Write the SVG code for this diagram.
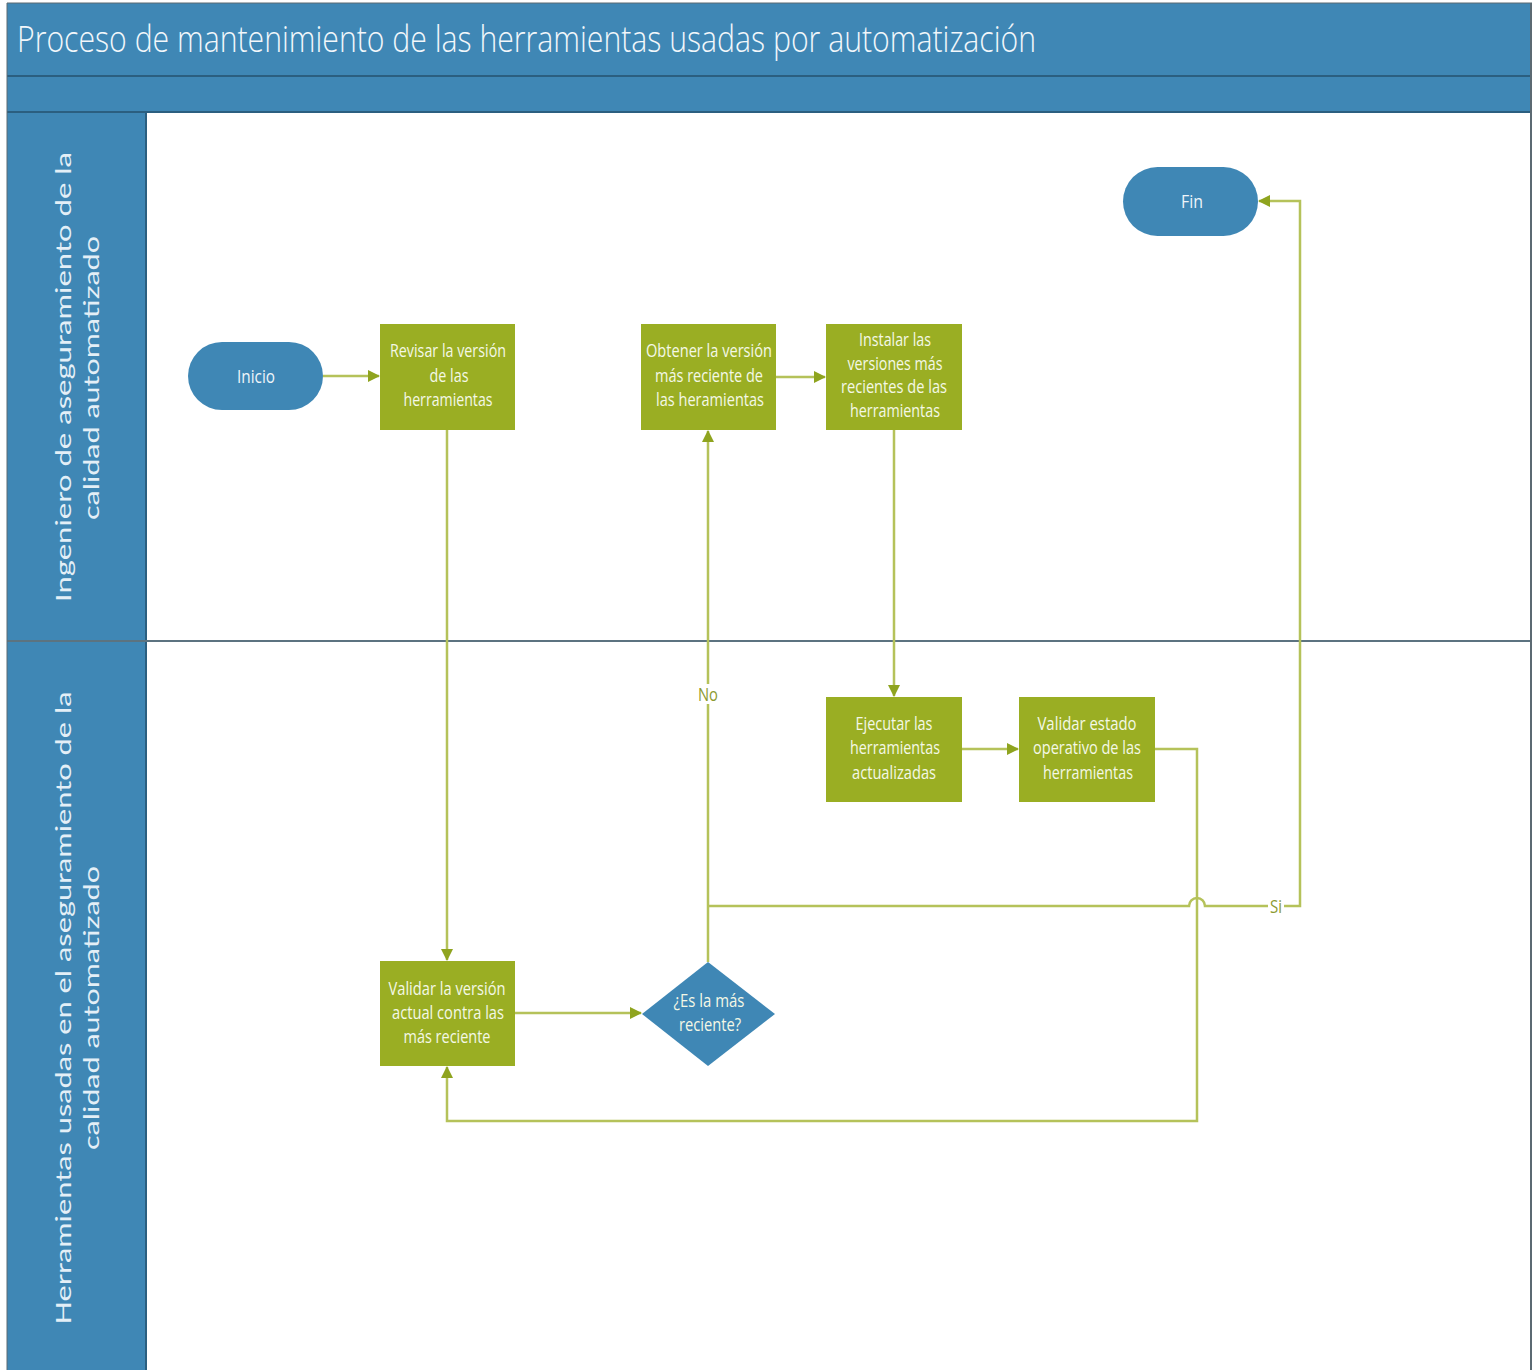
<svg xmlns="http://www.w3.org/2000/svg" width="1536" height="1372" viewBox="0 0 1536 1372">
  <style>
    .band { fill: #3f87b5; }
    .rule { stroke: #2b5f80; stroke-width: 2; fill: none; }
    .title { font-family: "Open Sans", "Liberation Sans", sans-serif; font-size: 36px; fill: #f2f7fb; font-weight: 300; }
    .lane { font-family: "Lato", "Open Sans", sans-serif; font-size: 22px; fill: #e3eff7; }
    .task { fill: #9aae23; }
    .term { fill: #3f87b5; }
    .lbl { font-family: "Open Sans", "Liberation Sans", sans-serif; font-size: 18px; fill: #f4f8e6; text-anchor: middle; }
    .tlbl { font-family: "Open Sans", "Liberation Sans", sans-serif; font-size: 19px; fill: #eef5fa; text-anchor: middle; }
    .conn { stroke: #b5c25a; stroke-width: 2.5; fill: none; }
    .clbl { font-family: "Open Sans", "Liberation Sans", sans-serif; font-size: 18px; fill: #8c9a30; text-anchor: middle; }
  </style>
  <defs>
    <marker id="arrow" viewBox="0 0 12 12" refX="11" refY="6" markerWidth="12" markerHeight="12" markerUnits="userSpaceOnUse" orient="auto">
      <path d="M0,0 L12,6 L0,12 z" fill="#8fa41f"/>
    </marker>
  </defs>

  <!-- frame and swimlanes -->
  <rect x="0" y="0" width="1536" height="1372" fill="#ffffff"/>
  <rect x="7" y="3" width="1525" height="109" class="band"/>
  <rect x="7" y="112" width="139" height="1258" class="band"/>
  <line x1="7" y1="76" x2="1532" y2="76" class="rule"/>
  <line x1="7" y1="112" x2="1532" y2="112" class="rule"/>
  <line x1="146" y1="112" x2="146" y2="1370" stroke="#2b5f80" stroke-width="2"/>
  <line x1="7" y1="641" x2="1532" y2="641" stroke="#5c7380" stroke-width="2"/>
  <line x1="1531" y1="3" x2="1531" y2="1370" stroke="#5c6a73" stroke-width="2"/>
  <line x1="7" y1="3" x2="7" y2="1370" stroke="#5c6a73" stroke-width="1"/>
  <line x1="7" y1="3" x2="1532" y2="3" stroke="#5c6a73" stroke-width="1"/>

  <text x="17" y="52" class="title" textLength="1019" lengthAdjust="spacingAndGlyphs">Proceso de mantenimiento de las herramientas usadas por automatización</text>

  <g id="lane-ingeniero">
    <text class="lane" text-anchor="middle" transform="translate(71,377) rotate(-90)" textLength="450" lengthAdjust="spacingAndGlyphs">Ingeniero de aseguramiento de la</text>
    <text class="lane" text-anchor="middle" transform="translate(99,378) rotate(-90)" textLength="284" lengthAdjust="spacingAndGlyphs">calidad automatizado</text>
  </g>
  <g id="lane-herramientas">
    <text class="lane" text-anchor="middle" transform="translate(71,1008) rotate(-90)" textLength="633" lengthAdjust="spacingAndGlyphs">Herramientas usadas en el aseguramiento de la</text>
    <text class="lane" text-anchor="middle" transform="translate(99,1008) rotate(-90)" textLength="284" lengthAdjust="spacingAndGlyphs">calidad automatizado</text>
  </g>

  <!-- connectors -->
  <g id="connectors">
    <path class="conn" d="M323,376 H379" marker-end="url(#arrow)"/>
    <path class="conn" d="M447,430 V960" marker-end="url(#arrow)"/>
    <path class="conn" d="M515,1013 H641" marker-end="url(#arrow)"/>
    <path class="conn" d="M708,962 V431" marker-end="url(#arrow)"/>
    <path class="conn" d="M776,377 H825" marker-end="url(#arrow)"/>
    <path class="conn" d="M894,430 V696" marker-end="url(#arrow)"/>
    <path class="conn" d="M962,749 H1018" marker-end="url(#arrow)"/>
    <path class="conn" d="M1155,749 H1197 V1121 H447 V1067" marker-end="url(#arrow)"/>
    <path class="conn" d="M708,906 H1189 A8,8 0 0 1 1205,906 H1300 V201 H1259" marker-end="url(#arrow)"/>
    <rect x="698" y="684" width="20" height="20" fill="#ffffff"/>
    <text x="708" y="701" class="clbl" textLength="20" lengthAdjust="spacingAndGlyphs">No</text>
    <rect x="1268" y="896" width="16" height="20" fill="#ffffff"/>
    <text x="1276" y="913" class="clbl" textLength="12" lengthAdjust="spacingAndGlyphs">Si</text>
  </g>

  <!-- nodes -->
  <g id="inicio">
    <rect x="188" y="342" width="135" height="68" rx="34" class="term"/>
    <text x="256" y="383" class="tlbl" textLength="38" lengthAdjust="spacingAndGlyphs">Inicio</text>
  </g>
  <g id="revisar">
    <rect x="380" y="324" width="135" height="106" class="task"/>
    <text class="lbl"><tspan x="448" y="357" textLength="116" lengthAdjust="spacingAndGlyphs">Revisar la versión</tspan><tspan x="449" y="382" textLength="39" lengthAdjust="spacingAndGlyphs">de las</tspan><tspan x="448" y="406" textLength="89" lengthAdjust="spacingAndGlyphs">herramientas</tspan></text>
  </g>
  <g id="obtener">
    <rect x="641" y="324" width="135" height="106" class="task"/>
    <text class="lbl"><tspan x="709" y="357" textLength="126" lengthAdjust="spacingAndGlyphs">Obtener la versión</tspan><tspan x="709" y="382" textLength="108" lengthAdjust="spacingAndGlyphs">más reciente de</tspan><tspan x="710" y="406" textLength="108" lengthAdjust="spacingAndGlyphs">las heramientas</tspan></text>
  </g>
  <g id="instalar">
    <rect x="826" y="324" width="136" height="106" class="task"/>
    <text class="lbl"><tspan x="895" y="346" textLength="72" lengthAdjust="spacingAndGlyphs">Instalar las</tspan><tspan x="895" y="370" textLength="95" lengthAdjust="spacingAndGlyphs">versiones más</tspan><tspan x="894" y="393" textLength="106" lengthAdjust="spacingAndGlyphs">recientes de las</tspan><tspan x="895" y="417" textLength="90" lengthAdjust="spacingAndGlyphs">herramientas</tspan></text>
  </g>
  <g id="fin">
    <rect x="1123" y="167" width="135" height="69" rx="34.5" class="term"/>
    <text x="1192" y="208" class="tlbl" textLength="22" lengthAdjust="spacingAndGlyphs">Fin</text>
  </g>
  <g id="ejecutar">
    <rect x="826" y="697" width="136" height="105" class="task"/>
    <text class="lbl"><tspan x="894" y="730" textLength="77" lengthAdjust="spacingAndGlyphs">Ejecutar las</tspan><tspan x="895" y="754" textLength="90" lengthAdjust="spacingAndGlyphs">herramientas</tspan><tspan x="894" y="779" textLength="84" lengthAdjust="spacingAndGlyphs">actualizadas</tspan></text>
  </g>
  <g id="validar-estado">
    <rect x="1019" y="697" width="136" height="105" class="task"/>
    <text class="lbl"><tspan x="1087" y="730" textLength="99" lengthAdjust="spacingAndGlyphs">Validar estado</tspan><tspan x="1087" y="754" textLength="108" lengthAdjust="spacingAndGlyphs">operativo de las</tspan><tspan x="1088" y="779" textLength="90" lengthAdjust="spacingAndGlyphs">herramientas</tspan></text>
  </g>
  <g id="validar-version">
    <rect x="380" y="961" width="135" height="105" class="task"/>
    <text class="lbl"><tspan x="447" y="995" textLength="117" lengthAdjust="spacingAndGlyphs">Validar la versión</tspan><tspan x="448" y="1019" textLength="112" lengthAdjust="spacingAndGlyphs">actual contra las</tspan><tspan x="447" y="1043" textLength="87" lengthAdjust="spacingAndGlyphs">más reciente</tspan></text>
  </g>
  <g id="es-la-mas-reciente">
    <polygon points="708,962 775,1014 708,1066 642,1014" class="term"/>
    <text class="lbl"><tspan x="709" y="1007" textLength="71" lengthAdjust="spacingAndGlyphs">¿Es la más</tspan><tspan x="710" y="1031" textLength="62" lengthAdjust="spacingAndGlyphs">reciente?</tspan></text>
  </g>
</svg>
